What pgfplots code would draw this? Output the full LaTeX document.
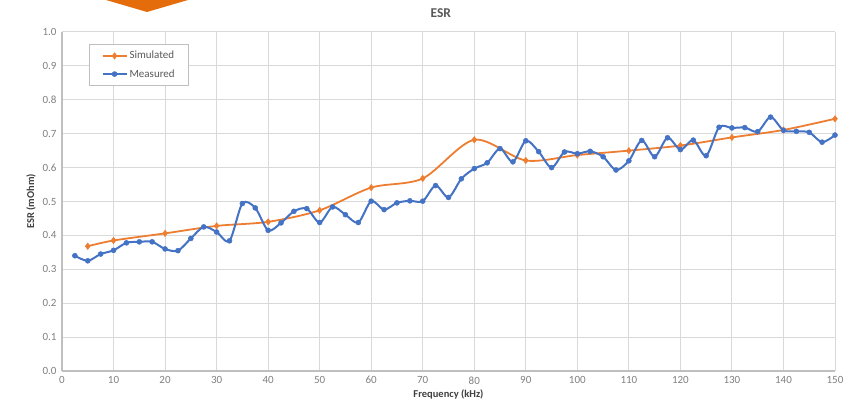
\documentclass[border=0pt]{standalone}
\usepackage{pgfplots}
\pgfplotsset{compat=1.18}
\usepackage{fontspec}
\setmainfont{Carlito}
\definecolor{exOrange}{HTML}{ED7D31}
\definecolor{exBlue}{HTML}{4472C4}
\definecolor{gridc}{HTML}{D9D9D9}
\definecolor{axc}{HTML}{BFBFBF}
\definecolor{txt}{HTML}{7F7F7F}
\definecolor{ttl}{HTML}{595959}
\definecolor{lab}{HTML}{404040}
\definecolor{deco}{HTML}{E46C0A}
\begin{document}
\begin{tikzpicture}
\useasboundingbox (0,0) rectangle (862pt,401pt);
\fill[deco] (106pt,401pt) -- (188pt,401pt) -- (147pt,389pt) -- cycle;
\begin{axis}[
  at={(62pt,30pt)}, anchor=south west,
  scale only axis, width=773pt, height=339pt,
  xmin=0, xmax=150, ymin=0, ymax=1,
  xtick={0,10,...,150},
  ytick={0,0.1,...,1.0},
  yticklabel style={/pgf/number format/fixed, /pgf/number format/fixed zerofill, /pgf/number format/precision=1},
  /pgf/number format/assume math mode=true,
  ticklabel style={font=\fontsize{11}{13}\selectfont, text=txt},
  xticklabel style={yshift=-2pt},
  yticklabel style={xshift=-2pt},
  grid=major,
  grid style={gridc, line width=1pt},
  axis x line*=bottom, axis y line*=left,
  axis line style={axc, line width=1.2pt, -},
  major tick style={draw=none},
  title={ESR},
  title style={font=\bfseries\fontsize{13.5}{15}\selectfont, text=ttl, at={(0.49,1)}, anchor=south, yshift=5pt},
  xlabel={Frequency (kHz)},
  xlabel style={font=\bfseries\fontsize{10.5}{12}\selectfont, text=lab, yshift=1.5pt},
  ylabel={ESR (mOhm)},
  ylabel style={font=\bfseries\fontsize{10.5}{12}\selectfont, text=lab, yshift=0pt},
  legend style={at={(0.035,0.965)}, anchor=north west, draw=axc, line width=1pt,
    font=\fontsize{11}{13}\selectfont, text=ttl, row sep=5pt, inner xsep=12pt, inner ysep=5pt},
  legend cell align=left,
  legend image code/.code={\draw[mark repeat=2,mark phase=2,#1] plot coordinates {(0pt,0pt) (12pt,0pt) (24pt,0pt)};},
]
\addplot[exOrange, line width=1.8pt, smooth, mark=diamond*, mark size=3.2pt, mark options={solid, line width=0.5pt}] coordinates {
(5,0.368) (10,0.385) (20,0.406) (30,0.428) (40,0.440) (50,0.474) (60,0.541) (70,0.568)
(80,0.682) (90,0.621) (100,0.637) (110,0.650) (120,0.665) (130,0.689) (140,0.711) (150,0.744)
};
\addlegendentry{Simulated}
\addplot[exBlue, line width=2pt, smooth, mark=*, mark size=2.5pt, mark options={solid, line width=0.5pt}] coordinates {
(2.5,0.340) (5,0.325) (7.5,0.345) (10,0.356) (12.5,0.378) (15,0.381) (17.5,0.381) (20,0.360)
(22.5,0.355) (25,0.391) (27.5,0.425) (30,0.410) (32.5,0.384) (35,0.494) (37.5,0.481) (40,0.415)
(42.5,0.437) (45,0.471) (47.5,0.479) (50,0.438) (52.5,0.484) (55,0.461) (57.5,0.438) (60,0.501)
(62.5,0.476) (65,0.496) (67.5,0.502) (70,0.501) (72.5,0.547) (75,0.512) (77.5,0.567) (80,0.597)
(82.5,0.614) (85,0.656) (87.5,0.617) (90,0.679) (92.5,0.647) (95,0.600) (97.5,0.646) (100,0.641)
(102.5,0.648) (105,0.632) (107.5,0.593) (110,0.620) (112.5,0.680) (115,0.632) (117.5,0.688) (120,0.653)
(122.5,0.681) (125,0.635) (127.5,0.719) (130,0.717) (132.5,0.718) (135,0.706) (137.5,0.749) (140,0.710)
(142.5,0.707) (145,0.704) (147.5,0.675) (150,0.696)
};
\addlegendentry{Measured}
\end{axis}
\end{tikzpicture}
\end{document}
